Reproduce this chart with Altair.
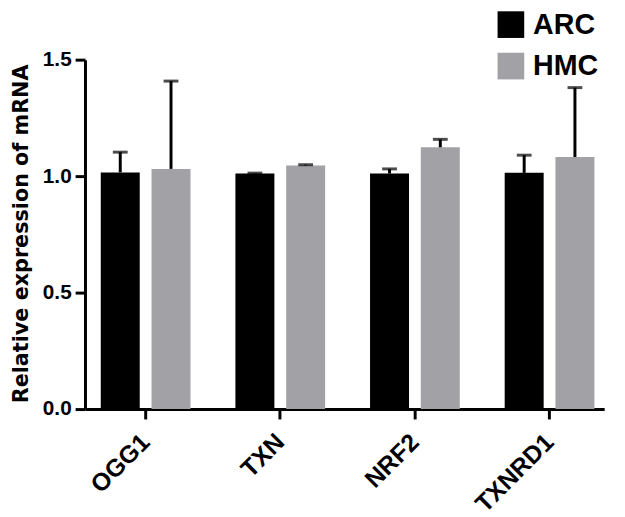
import altair as alt
import pandas as pd

genes = ["OGG1", "TXN", "NRF2", "TXNRD1"]
groups = ["ARC", "HMC"]
arc_mean = [1.016, 1.011, 1.011, 1.014]
arc_err = [0.087, 0.002, 0.020, 0.076]
hmc_mean = [1.031, 1.046, 1.124, 1.082]
hmc_err = [0.377, 0.003, 0.034, 0.298]
colors = ["#000000", "#a2a2a6"]
y_ticks = [0, 0.5, 1.0, 1.5]

rows = []
for i, g in enumerate(genes):
    rows.append({"gene": g, "group": "ARC", "mean": arc_mean[i], "upper": arc_mean[i] + arc_err[i]})
    rows.append({"gene": g, "group": "HMC", "mean": hmc_mean[i], "upper": hmc_mean[i] + hmc_err[i]})
df = pd.DataFrame(rows)

FONT = "Liberation Sans"

x_enc = alt.X(
    "gene:N", sort=genes,
    scale=alt.Scale(paddingInner=0.2, paddingOuter=0.028, align=0.9),
    axis=alt.Axis(
        title=None, labelAngle=-45, labelAlign="right", labelBaseline="middle",
        labelFontSize=25, labelFont=FONT, labelFontWeight="bold", labelColor="black",
        labelPadding=19, tickSize=10, tickWidth=3, tickColor="black",
        domainWidth=3, domainColor="black", grid=False,
    ),
)
xo_enc = alt.XOffset("group:N", sort=groups, scale=alt.Scale(paddingInner=0.232, paddingOuter=0.177))
y_scale = alt.Scale(domain=[0, 1.5], nice=False, zero=True)
y_axis = alt.Axis(
    values=y_ticks, format=".1f", labelFontSize=21, labelFont=FONT, labelFontWeight="bold",
    labelColor="black", labelPadding=4, tickSize=10, tickWidth=3, tickColor="black",
    domainWidth=3, domainColor="black", grid=False,
    titleFont="DejaVu Sans", titleFontSize=21, titleFontWeight="bold", titleColor="black",
    titleAngle=270, titleAlign="center", titleBaseline="alphabetic", titleX=-58, titleY=176,
)
TITLE = "Relative expression of mRNA"

bars = alt.Chart(df).mark_bar().encode(
    x=x_enc, xOffset=xo_enc,
    y=alt.Y("mean:Q", scale=y_scale, axis=y_axis, title=TITLE),
    color=alt.Color(
        "group:N", scale=alt.Scale(domain=groups, range=colors),
        legend=alt.Legend(
            title=None, orient="none", legendX=417, legendY=-50, symbolType="square",
            symbolSize=729, symbolStrokeWidth=0, labelFontSize=29, labelFont=FONT,
            labelFontWeight="bold", labelColor="black", labelOffset=8, rowPadding=12, padding=0,
        ),
    ),
)
rules = alt.Chart(df).mark_rule(color="black", strokeWidth=3).encode(
    x=x_enc, xOffset=xo_enc,
    y=alt.Y("mean:Q", scale=y_scale, axis=y_axis, title=TITLE),
    y2="upper:Q",
)
caps = alt.Chart(df).mark_tick(color="black", thickness=3, size=15, orient="horizontal").encode(
    x=x_enc, xOffset=xo_enc,
    y=alt.Y("upper:Q", scale=y_scale, axis=y_axis, title=TITLE),
)

chart = alt.layer(bars, rules, caps).properties(
    width=526, height=354,
    autosize=alt.AutoSizeParams(type="none"),
    padding={"left": 78, "top": 49, "right": 13, "bottom": 106},
).configure_view(stroke=None)

chart.save("out.html", embed_options={"renderer": "svg", "actions": False})
